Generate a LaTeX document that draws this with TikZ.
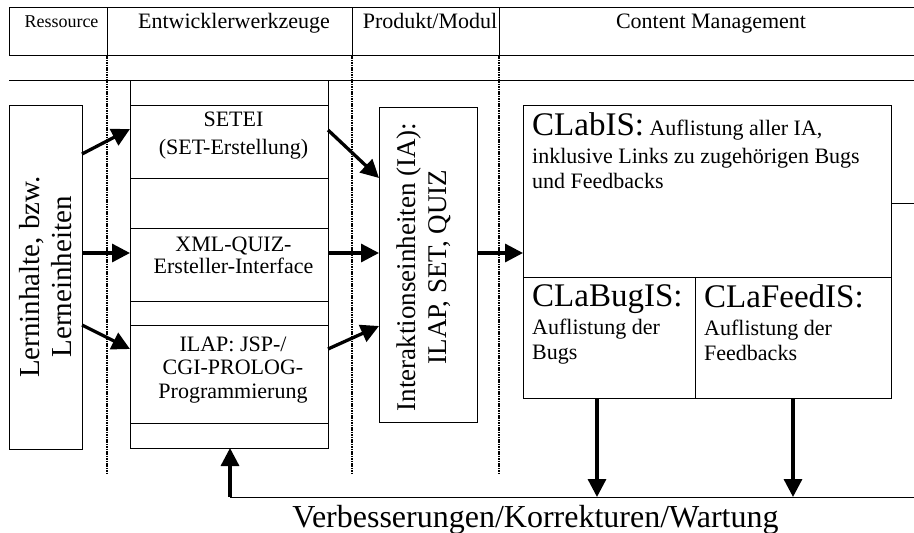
\documentclass[tikz,border=0pt]{standalone}
\usepackage{fontspec}
\setmainfont{Liberation Serif}
\usetikzlibrary{arrows.meta}
\tikzstyle{cellbox} = [draw,line width=1pt,inner sep=0pt,outer sep=0pt]
\tikzstyle{gridline} = [line width=1pt]
\tikzstyle{sepline} = [line width=1.7pt,dash pattern=on 1.6pt off 0.8pt]
\tikzstyle{flowarrow} = [line width=3.3pt,-{Triangle[length=18pt,width=18pt]}]
\tikzstyle{headtext} = [anchor=base,inner sep=0pt,font=\fontsize{22pt}{26pt}\selectfont]
\tikzstyle{tooltext} = [anchor=north,align=center,inner sep=0pt]
\tikzstyle{cmstext} = [anchor=north west,align=left,inner sep=0pt,font=\fontsize{22pt}{24.5pt}\selectfont]
\newcommand{\cmsbig}{\fontsize{33pt}{36pt}\selectfont}

\begin{document}
\begin{tikzpicture}[x=1pt,y=-1pt]
			\useasboundingbox (0,0) rectangle (914,533);
			
			% header table
			\draw[gridline] (9,7) -- (914,7) (9,55) -- (914,55) (9,80) -- (914,80);
			\foreach \x in {9,107,352,499}
				\draw[gridline] (\x,7) -- (\x,55);
			\node[headtext,font=\fontsize{18pt}{20pt}\selectfont] (hdres) at (61.5,27) {Ressource};
			\node[headtext] (hddev) at (234,28) {Entwicklerwerkzeuge};
			\node[headtext] (hdprod) at (430,28) {Produkt/Modul};
			\node[headtext] (hdcms) at (711,28) {Content Management};
			\foreach \x in {107,352,499}
				\draw[sepline] (\x,55) -- (\x,473);
			
			% resource
			\node[cellbox,minimum width=73pt,minimum height=344pt] (lern) at (45.5,277) {};
			\node[rotate=90,align=center,inner sep=0pt,font=\fontsize{29pt}{32pt}\selectfont] (lerntxt) at (lern) {Lerninhalte, bzw.\\Lerneinheiten};
			
			% tools
			\node[cellbox,minimum width=198pt,minimum height=368pt] (tools) at (229,264) {};
			\node[cellbox,minimum width=198pt,minimum height=73pt] (setei) at (229,141.5) {};
			\node[cellbox,minimum width=198pt,minimum height=73pt] (xml) at (229,264.5) {};
			\node[cellbox,minimum width=198pt,minimum height=98pt] (ilap) at (229,374) {};
			\node[tooltext,font=\fontsize{22pt}{28.3pt}\selectfont] (seteitxt) at (233.5,111.7) {SETEI\\(SET-Erstellung)};
			\node[tooltext,font=\fontsize{22pt}{22.5pt}\selectfont] (xmltxt) at (233.5,236.7) {XML-QUIZ-\\Ersteller-Interface};
			\node[tooltext,font=\fontsize{22pt}{23.5pt}\selectfont] (ilaptxt) at (233,336.7) {ILAP: JSP-/\\CGI-PROLOG-\\Programmierung};
			
			% product
			\node[cellbox,minimum width=98pt,minimum height=315pt] (ia) at (428,264.5) {};
			\node[rotate=90,align=center,inner sep=0pt,font=\fontsize{27pt}{31pt}\selectfont] (iatxt) at (424,267) {Interaktionseinheiten (IA):\\ILAP, SET, QUIZ};
			
			% content management
			\node[cellbox,minimum width=368pt,minimum height=172pt] (clabis) at (707,191) {};
			\node[cellbox,minimum width=172pt,minimum height=121pt] (clabug) at (609,337.5) {};
			\node[cellbox,minimum width=196pt,minimum height=121pt] (clafeed) at (793,337.5) {};
			\node[cmstext] (clabistxt) at (532,112.5) {{\cmsbig CLabIS:} Auflistung aller IA,\\[3.5pt]inklusive Links zu zugehörigen Bugs\\und Feedbacks};
			\node[cmstext] (clabugtxt) at (532,284.7) {{\cmsbig CLaBugIS:}\\[3.5pt]Auflistung der\\Bugs};
			\node[cmstext] (clafeedtxt) at (704,284.5) {{\cmsbig CLaFeedIS:}\\[3.5pt]Auflistung der\\Feedbacks};
			\coordinate (cmsright) at (914,203);
			\draw[gridline] ([yshift=-12pt]clabis.east) -- (cmsright);
			
			% arrows
			\draw[flowarrow] ([yshift=123pt]lern.east) -- ([yshift=12.5pt]setei.west);
			\draw[flowarrow] ([yshift=24pt]lern.east) -- ([yshift=11.5pt]xml.west);
			\draw[flowarrow] ([yshift=-48pt]lern.east) -- ([yshift=25pt]ilap.west);
			\draw[flowarrow] ([yshift=11.5pt]setei.east) -- ([yshift=86.5pt]ia.west);
			\draw[flowarrow] ([yshift=11.5pt]xml.east) -- ([yshift=11.5pt]ia.west);
			\draw[flowarrow] ([yshift=25pt]ilap.east) -- ([yshift=-61.5pt]ia.west);
			\draw[flowarrow] ([yshift=11.5pt]ia.east) -- ([yshift=-62pt]clabis.west);
			
			% feedback loop
			\coordinate (fbleft) at (230,497);
			\coordinate (fbright) at (914,497);
			\draw[gridline] (fbleft) -- (fbright);
			\draw[flowarrow] ([xshift=-12pt]clabug.south) -- ([xshift=-12pt]clabug.south |- fbleft);
			\draw[flowarrow] (clafeed.south) -- (clafeed.south |- fbleft);
			\draw[flowarrow] (fbleft) -- (fbleft |- tools.south);
			\node[anchor=base,inner sep=0pt,font=\fontsize{32pt}{36pt}\selectfont] (fixtxt) at (535.5,527) {Verbesserungen/Korrekturen/Wartung};
		\end{tikzpicture}
\end{document}
